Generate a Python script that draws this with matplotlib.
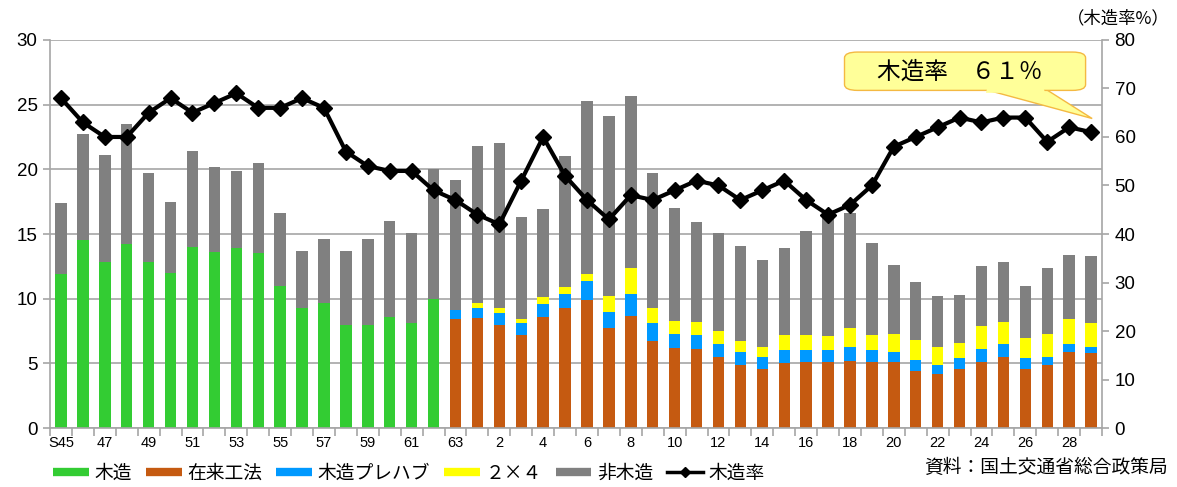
import numpy as np
import matplotlib
matplotlib.use("Agg")
import matplotlib.pyplot as plt
from matplotlib.lines import Line2D
from matplotlib.patches import FancyBboxPatch, Polygon

plt.rcParams['font.family'] = ['Liberation Sans', 'Noto Sans CJK JP', 'DejaVu Sans']
JP = ['Noto Sans CJK JP', 'DejaVu Sans']

# ---------------------------------------------
# data
# S45..S63, H1..H29
# ---------------------------------------------
years = ["S45", "46", "47", "48", "49", "50", "51", "52", "53", "54", "55", "56",
         "57", "58", "59", "60", "61", "62", "63"] + [str(i) for i in range(1, 30)]

# 木造 (only until S62)
mokuzou = [11.9, 14.5, 12.8, 14.2, 12.8, 12.0, 14.0, 13.6, 13.9, 13.5, 11.0, 9.3,
           9.7, 8.0, 8.0, 8.6, 8.1, 10.0] + [0] * 30
# 在来工法 (from S63)
zairai = [0] * 18 + [8.4, 8.5, 8.0, 7.2, 8.6, 9.3, 9.9, 7.7, 8.7, 6.7, 6.2, 6.1,
                     5.5, 4.9, 4.6, 5.0, 5.1, 5.1, 5.2, 5.1, 5.1, 4.4, 4.2, 4.6,
                     5.1, 5.5, 4.6, 4.9, 5.9, 5.8]
prefab = [0] * 18 + [0.7, 0.8, 0.9, 0.9, 1.0, 1.1, 1.5, 1.3, 1.7, 1.4, 1.1, 1.1,
                     1.0, 1.0, 0.9, 1.0, 0.9, 0.9, 1.1, 0.9, 0.8, 0.9, 0.7, 0.8,
                     1.0, 1.0, 0.8, 0.6, 0.6, 0.5]
two_by_four = [0] * 18 + [0.0, 0.4, 0.4, 0.3, 0.5, 0.5, 0.5, 1.2, 2.0, 1.2, 1.0, 1.0,
                          1.0, 0.8, 0.8, 1.2, 1.2, 1.1, 1.4, 1.2, 1.4, 1.5, 1.4, 1.2,
                          1.8, 1.7, 1.6, 1.8, 1.9, 1.8]
hi_mokuzou = [5.5, 8.2, 8.3, 9.3, 6.9, 5.5, 7.4, 6.6, 6.0, 7.0, 5.6, 4.4,
              4.9, 5.7, 6.6, 7.4, 7.0, 10.0,
              10.1, 12.1, 12.7, 7.9, 6.8, 10.1, 13.4, 13.9, 13.3, 10.4, 8.7, 7.7,
              7.6, 7.4, 6.7, 6.7, 8.0, 9.3, 8.9, 7.1, 5.3, 4.5, 3.9, 3.7,
              4.6, 4.6, 4.0, 5.1, 5.0, 5.2]
# 木造率 (%)
rate = [68, 63, 60, 60, 65, 68, 65, 67, 69, 66, 66, 68, 66, 57, 54, 53, 53, 49,
        47, 44, 42, 51, 60, 52, 47, 43, 48, 47, 49, 51, 50, 47, 49, 51, 47, 44,
        46, 50, 58, 60, 62, 64, 63, 64, 64, 59, 62, 61]

series = [
    ("木造", mokuzou, "#33CC33"),
    ("在来工法", zairai, "#C55A11"),
    ("木造プレハブ", prefab, "#0099FF"),
    ("２×４", two_by_four, "#FFFF00"),
    ("非木造", hi_mokuzou, "#808080"),
]

GRID = "#A6A6A6"

fig = plt.figure(figsize=(11.77, 4.87), dpi=100)
ax = fig.add_axes([0.0425, 0.121, 0.8938, 0.797])

x = np.arange(len(years))
bottom = np.zeros(len(years))
for name, vals, col in series:
    vals = np.array(vals, dtype=float)
    ax.bar(x, vals, width=0.52, bottom=bottom, color=col, zorder=2)
    bottom += vals

ax.set_xlim(-0.5, len(years) - 0.5)
ax.set_ylim(0, 30)
ax.set_yticks(range(0, 31, 5))
ax.yaxis.grid(True, color=GRID, linewidth=1.2, zorder=0)
ax.set_axisbelow(True)

ax.set_xticks(x[::2])
ax.set_xticklabels(years[::2], fontsize=10.5)
ax.set_xticks(np.arange(-0.5, len(years), 1), minor=True)
ax.tick_params(axis="x", which="major", length=0, pad=6)
ax.tick_params(axis="x", which="minor", length=6, color=GRID, width=1.2)
ax.tick_params(axis="y", labelsize=13.5, length=5, color=GRID, width=1.2, pad=4)

for s in ["top", "right"]:
    ax.spines[s].set_visible(False)
for s in ["left", "bottom"]:
    ax.spines[s].set_color(GRID)
    ax.spines[s].set_linewidth(1.2)

# 木造率 line on right axis
ax2 = ax.twinx()
ax2.plot(x, rate, color="black", linewidth=3, marker="D", markersize=8, zorder=5)
ax2.set_ylim(0, 80)
ax2.set_yticks(range(0, 81, 10))
ax2.tick_params(axis="y", labelsize=13.5, length=5, color=GRID, width=1.2, pad=4)
for s in ["top", "left", "bottom"]:
    ax2.spines[s].set_visible(False)
ax2.spines["right"].set_color(GRID)
ax2.spines["right"].set_linewidth(1.2)

fig.text(0.994, 0.962, "（木造率%）", ha="right", va="center", fontsize=12.5, family=JP)

# callout
box_fc = "#FFFF99"
box_ec = "#F4B942"
wedge = [(42.15, 69.8), (47.05, 63.8), (44.95, 69.8)]
ax2.add_patch(Polygon(wedge, closed=True, fc=box_fc, ec=box_ec, lw=1.0, zorder=6))
ax2.add_patch(FancyBboxPatch((35.75, 69.6), 11.0, 7.9,
                             boxstyle="round,pad=0,rounding_size=0.6",
                             mutation_aspect=2.0,
                             fc=box_fc, ec=box_ec, lw=1.0, zorder=7))
cover = [(42.3, 70.6), (44.8, 70.6), (44.9, 69.1), (42.2, 69.1)]
ax2.add_patch(Polygon(cover, closed=True, fc=box_fc, ec="none", zorder=8))
ax2.text(41.0, 73.4, "木造率　６１％", ha="center", va="center", fontsize=17,
         family=JP, zorder=9)

# legend
handles = [Line2D([0], [0], color=col, linewidth=6, solid_capstyle="butt")
           for _, _, col in series]
handles.append(Line2D([0], [0], color="black", linewidth=2.5, marker="D", markersize=5))
labels = [name for name, _, _ in series] + ["木造率"]
fig.legend(handles, labels, loc="lower left", bbox_to_anchor=(0.031, -0.028),
           ncol=6, frameon=False, handlelength=1.9, handletextpad=0.3,
           columnspacing=0.75, prop={'family': JP, 'size': 13.5})

fig.text(0.992, 0.018, "資料：国土交通省総合政策局", ha="right", va="bottom", fontsize=13.5,
         family=JP)

fig.savefig("out.png", dpi=100)
